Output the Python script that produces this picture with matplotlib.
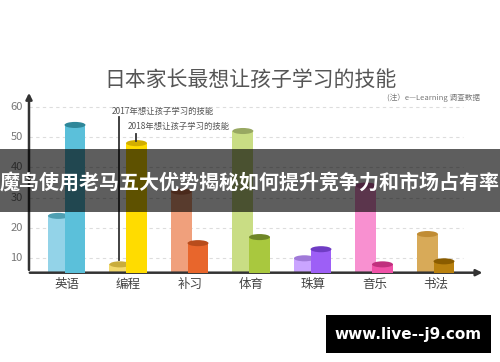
import matplotlib
matplotlib.use("Agg")
import matplotlib.pyplot as plt
from matplotlib.patches import Ellipse, Rectangle

plt.rcParams['font.family'] = ['Noto Sans CJK SC', 'DejaVu Sans']

# data
categories = ['英语', '编程', '补习', '体育', '珠算', '音乐', '书法']
v2017 = [24, 8, 32, 52, 10, 34, 18]
v2018 = [54, 48, 15, 17, 13, 8, 9]
yticks = [10, 20, 30, 40, 50, 60]

# colours: (body, top) per category
c2017 = [('#93d3e8', '#4f9fb2'), ('#f2d96e', '#c9ad3c'), ('#f0a07c', '#c8704a'),
         ('#c9dd84', '#98a862'), ('#caa4ff', '#a07ad8'), ('#f890d0', '#d064a8'),
         ('#d8aa58', '#c08c34')]
c2018 = [('#5bc0da', '#2f8799'), ('#ffdc00', '#d2ae00'), ('#e8662c', '#b84c1c'),
         ('#a9c83e', '#6f8626'), ('#9d5ff6', '#6f3cc4'), ('#f052a8', '#c0307e'),
         ('#b9810f', '#8a5c00')]

fig = plt.figure(figsize=(5, 3.62), dpi=100)
fig.patch.set_facecolor('white')
ax = fig.add_axes([0.058, 0.2467, 0.908, 0.4994])
ax.set_xlim(-0.618, 6.764)
ax.set_ylim(5.25, 64.9)
for s in ax.spines.values():
    s.set_visible(False)
ax.set_xticks([])
ax.set_yticks([])

# grid lines
for y in yticks:
    ax.plot([-0.618, 6.44], [y, y], ls=(0, (3, 3)), color='#dddddd', lw=0.8, zorder=0)
    ax.text(-0.72, y, str(y), ha='right', va='center', fontsize=8, color='#777777')

w = 0.34
eh = 2.0
for i in range(len(categories)):
    for off, vals, cols, z in [(-0.14, v2017, c2017, 2), (0.13, v2018, c2018, 4)]:
        x = i + off
        ax.bar(x, vals[i] - 5.25, bottom=5.25, width=w, color=cols[i][0], zorder=z)
        ax.add_patch(Ellipse((x, vals[i]), w, eh, facecolor=cols[i][1], zorder=z + 1))
    ax.text(i, 1.5, categories[i], ha='center', va='center', fontsize=9, color='#444444', clip_on=False)

# axes with arrows
ax.annotate('', xy=(-0.618, 65.5), xytext=(-0.618, 5.25),
            arrowprops=dict(arrowstyle='-|>', color='#333333', lw=1.8, mutation_scale=9), annotation_clip=False)
ax.annotate('', xy=(6.80, 5.25), xytext=(-0.65, 5.25),
            arrowprops=dict(arrowstyle='-|>', color='#333333', lw=1.8, mutation_scale=9), annotation_clip=False)

# annotations
ax.plot([0.85, 0.85], [9.5, 56.7], color='#333333', lw=1.3, zorder=6)
ax.text(0.72, 58.5, '2017年想让孩子学习的技能', fontsize=6, color='#555555', va='center')
ax.plot([1.12, 1.12], [48.8, 51], color='#333333', lw=1.3, zorder=6)
ax.text(0.99, 53.5, '2018年想让孩子学习的技能', fontsize=6, color='#555555', va='center')

# titles
fig.text(0.5, 1 - 80 / 362, '日本家长最想让孩子学习的技能', ha='center', va='center',
         fontsize=15, color='#555555')
fig.text(0.96, 1 - 98 / 362, '(注）e—Learning 调查数据', ha='right', va='center',
         fontsize=5.5, color='#777777')

# banner overlay
fig.patches.append(Rectangle((0, 1 - 211.7 / 362), 1, (211.7 - 149) / 362, transform=fig.transFigure,
                             facecolor='black', alpha=0.63, zorder=10))
fig.text(0.5, 1 - 182 / 362, '魔鸟使用老马五大优势揭秘如何提升竞争力和市场占有率', ha='center', va='center',
         fontsize=14.4, color='white', fontweight='bold', zorder=11)

# watermark box
fig.patches.append(Rectangle((326 / 500, 1 - 353 / 362), (491 - 326) / 500, (353 - 315) / 362,
                             transform=fig.transFigure, facecolor='black', zorder=10))
fig.text(408 / 500, 1 - 334 / 362, 'www.live--j9.com', ha='center', va='center',
         fontsize=11, color='white', fontweight='bold', family='DejaVu Sans', zorder=11)

fig.savefig('out.png', dpi=100)
